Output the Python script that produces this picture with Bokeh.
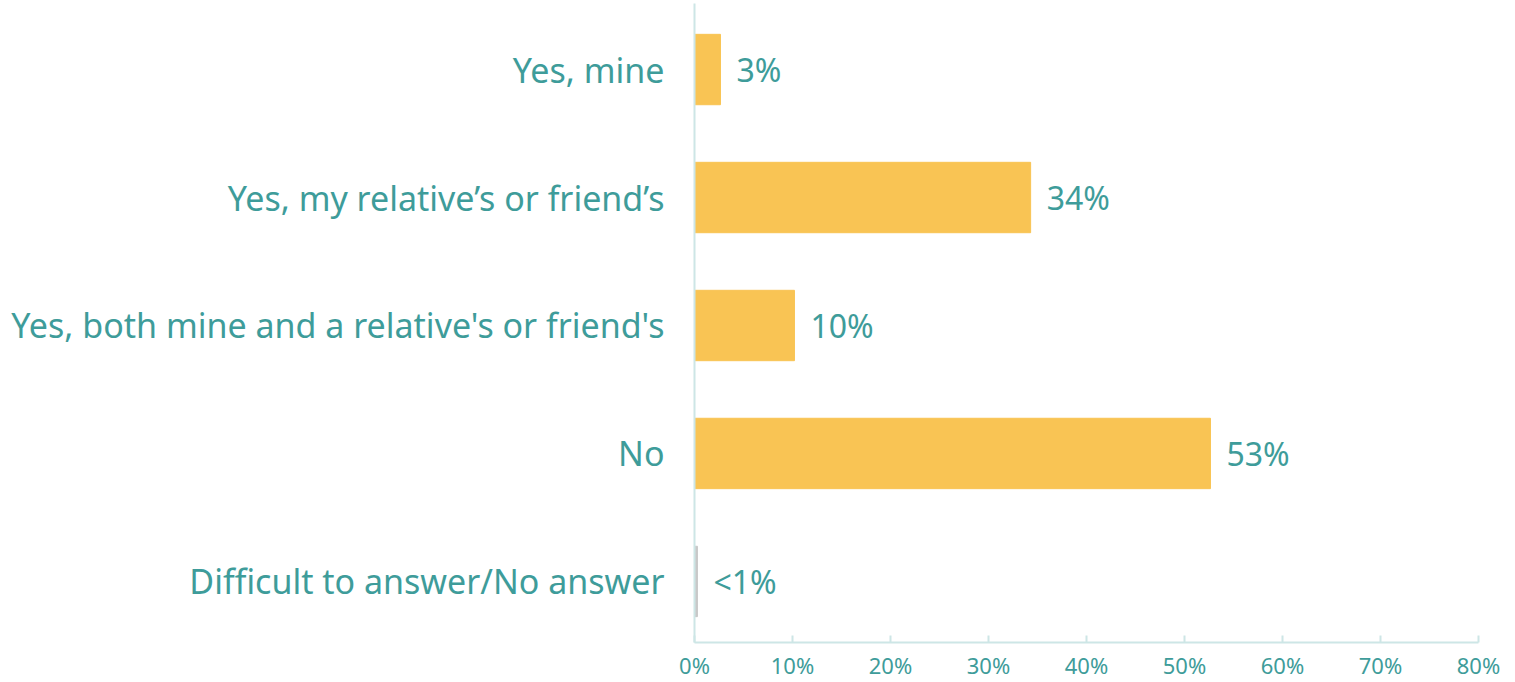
from bokeh.plotting import figure
from bokeh.models import ColumnDataSource, FixedTicker, Range1d
from bokeh.core.properties import value
from bokeh.embed import file_html
from bokeh.resources import INLINE

categories = ["Yes, mine", "Yes, my relative\u2019s or friend\u2019s",
              "Yes, both mine and a relative's or friend's", "No",
              "Difficult to answer/No answer"]
values = [2.65, 34.3, 10.2, 52.65, 0.3]
labels = ["3%", "34%", "10%", "53%", "<1%"]
colors = ["#F9C454", "#F9C454", "#F9C454", "#F9C454", "#C8C8C8"]
x_ticks = [0, 10, 20, 30, 40, 50, 60, 70, 80]

TEXT = "#3E9C9A"
AXIS = "#CDE6E6"
FONT = "Noto Sans"

n = len(categories)
ypos = [n - 1 - i for i in range(n)]

src = ColumnDataSource(dict(y=ypos, v=values, lab=labels, col=colors))

p = figure(width=1508, height=682, output_backend="svg", toolbar_location=None,
           x_range=Range1d(0, 80), y_range=Range1d(-0.477, n - 1 + 0.516),
           min_border_left=694, min_border_right=30, min_border_top=3,
           min_border_bottom=38)
p.outline_line_color = None
p.grid.grid_line_color = None

p.hbar(y="y", right="v", left=0, height=0.55, color="col", source=src)
p.text(x="v", y="y", text="lab", source=src, x_offset=16,
       text_baseline="middle", text_align="left", text_color=TEXT,
       text_font=value(FONT), text_font_size="32px")

p.xaxis.ticker = FixedTicker(ticks=x_ticks)
p.xaxis.major_label_overrides = {t: f"{t}%" for t in x_ticks}
p.xaxis.axis_line_color = AXIS
p.xaxis.axis_line_width = 2
p.xaxis.major_tick_line_color = AXIS
p.xaxis.major_tick_line_width = 2
p.xaxis.major_tick_in = 7
p.xaxis.major_tick_out = 0
p.xaxis.minor_tick_line_color = None
p.xaxis.major_label_text_color = TEXT
p.xaxis.major_label_text_font = FONT
p.xaxis.major_label_text_font_size = "22px"
p.xaxis.major_label_standoff = 7

p.yaxis.ticker = FixedTicker(ticks=ypos)
p.yaxis.major_label_overrides = {y: c for y, c in zip(ypos, categories)}
p.yaxis.axis_line_color = AXIS
p.yaxis.axis_line_width = 2
p.yaxis.major_tick_line_color = None
p.yaxis.minor_tick_line_color = None
p.yaxis.major_label_text_color = TEXT
p.yaxis.major_label_text_font = FONT
p.yaxis.major_label_text_font_size = "34px"
p.yaxis.major_label_standoff = 24

open("out.html", "w").write(file_html(p, INLINE))
